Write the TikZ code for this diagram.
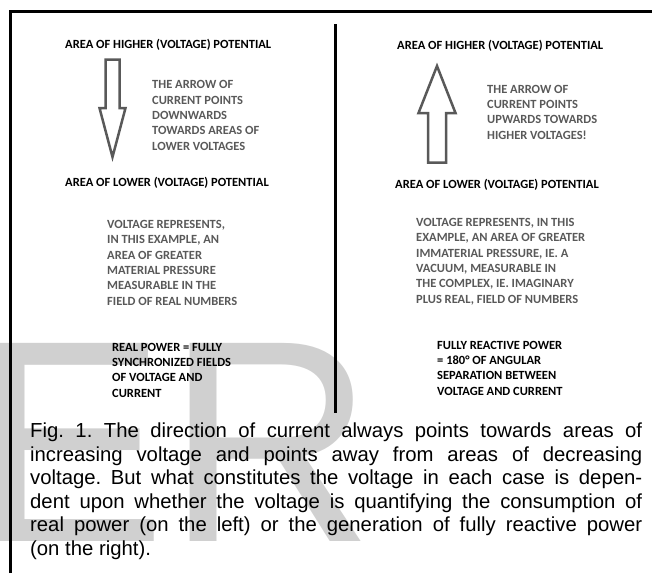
\documentclass[tikz,border=0pt]{standalone}
\usepackage{fontspec}
\setmainfont{Liberation Sans}
\newfontfamily\calibri{Carlito}
\definecolor{textgray}{RGB}{89,89,89}
\definecolor{markgray}{RGB}{208,208,208}
\frenchspacing

\begin{document}
\begin{tikzpicture}[
    x=1pt, y=-1pt,
    heading/.style={font=\calibri\bfseries\fontsize{12.5}{15.3}\selectfont, inner sep=0pt, anchor=base west, align=left},
    note/.style={heading, text=textgray},
    outline/.style={draw=textgray, line width=2.5pt, line join=miter},
    frame/.style={draw=black, line width=3pt},
  ]
  \useasboundingbox (0,0) rectangle (652,573);
  % watermark behind everything
  \node[font=\fontsize{288}{288}\selectfont, text=markgray, inner sep=0pt, anchor=base west] (mark) at (-26,541) {ER};

  % frame and divider
  \draw[frame] (10,573) -- (10,11) -- (652,11);
  \draw[frame] (335,24) -- (335,413);

  % left side (multi-line nodes sit on their last baseline)
  \node[heading] (highL) at (65,48) {AREA OF HIGHER (VOLTAGE) POTENTIAL};
  \node[heading] (lowL) at (65,186) {AREA OF LOWER (VOLTAGE) POTENTIAL};
  \draw[outline] (105.5,59.5) -- (119.5,59.5) -- (119.5,108) -- (125.5,108)
    -- (112.5,157) -- (99.5,108) -- (105.5,108) -- cycle;
  \node[note] (arrowL) at (152,150) {THE ARROW OF\\CURRENT POINTS\\DOWNWARDS\\TOWARDS AREAS OF\\LOWER VOLTAGES};
  \node[note] (voltL) at (107,305) {VOLTAGE REPRESENTS,\\IN THIS EXAMPLE, AN\\AREA OF GREATER\\MATERIAL PRESSURE\\MEASURABLE IN THE\\FIELD OF REAL NUMBERS};
  \node[heading] (powerL) at (112,397) {REAL POWER = FULLY\\SYNCHRONIZED FIELDS\\OF VOLTAGE AND\\CURRENT};

  % right side
  \node[heading] (highR) at (397,49) {AREA OF HIGHER (VOLTAGE) POTENTIAL};
  \node[heading] (lowR) at (395,188) {AREA OF LOWER (VOLTAGE) POTENTIAL};
  \draw[outline] (428,162.5) -- (446,162.5) -- (446,113) -- (455.5,113)
    -- (437,66) -- (418.5,113) -- (428,113) -- cycle;
  \node[note] (arrowR) at (487,139) {THE ARROW OF\\CURRENT POINTS\\UPWARDS TOWARDS\\HIGHER VOLTAGES!};
  \node[note] (voltR) at (416,303) {VOLTAGE REPRESENTS, IN THIS\\EXAMPLE, AN AREA OF GREATER\\IMMATERIAL PRESSURE, IE. A\\VACUUM, MEASURABLE IN\\THE COMPLEX, IE. IMAGINARY\\PLUS REAL, FIELD OF NUMBERS};
  \node[heading] (powerR) at (437,395) {FULLY REACTIVE POWER\\= 180° OF ANGULAR\\SEPARATION BETWEEN\\VOLTAGE AND CURRENT};

  % caption
  \node[font=\fontsize{20.3}{23.6}\selectfont, inner sep=0pt, anchor=base west, align=left] (caption) at (30,555.5) {%
    \makebox[612pt][s]{Fig. 1. The direction of current always points towards areas of}\\
    \makebox[612pt][s]{increasing voltage and points away from areas of decreasing}\\
    \makebox[612pt][s]{voltage. But what constitutes the voltage in each case is depen-}\\
    \makebox[612pt][s]{dent upon whether the voltage is quantifying the consumption of}\\
    \makebox[612pt][s]{real power (on the left) or the generation of fully reactive power}\\
    (on the right).};
\end{tikzpicture}
\end{document}
